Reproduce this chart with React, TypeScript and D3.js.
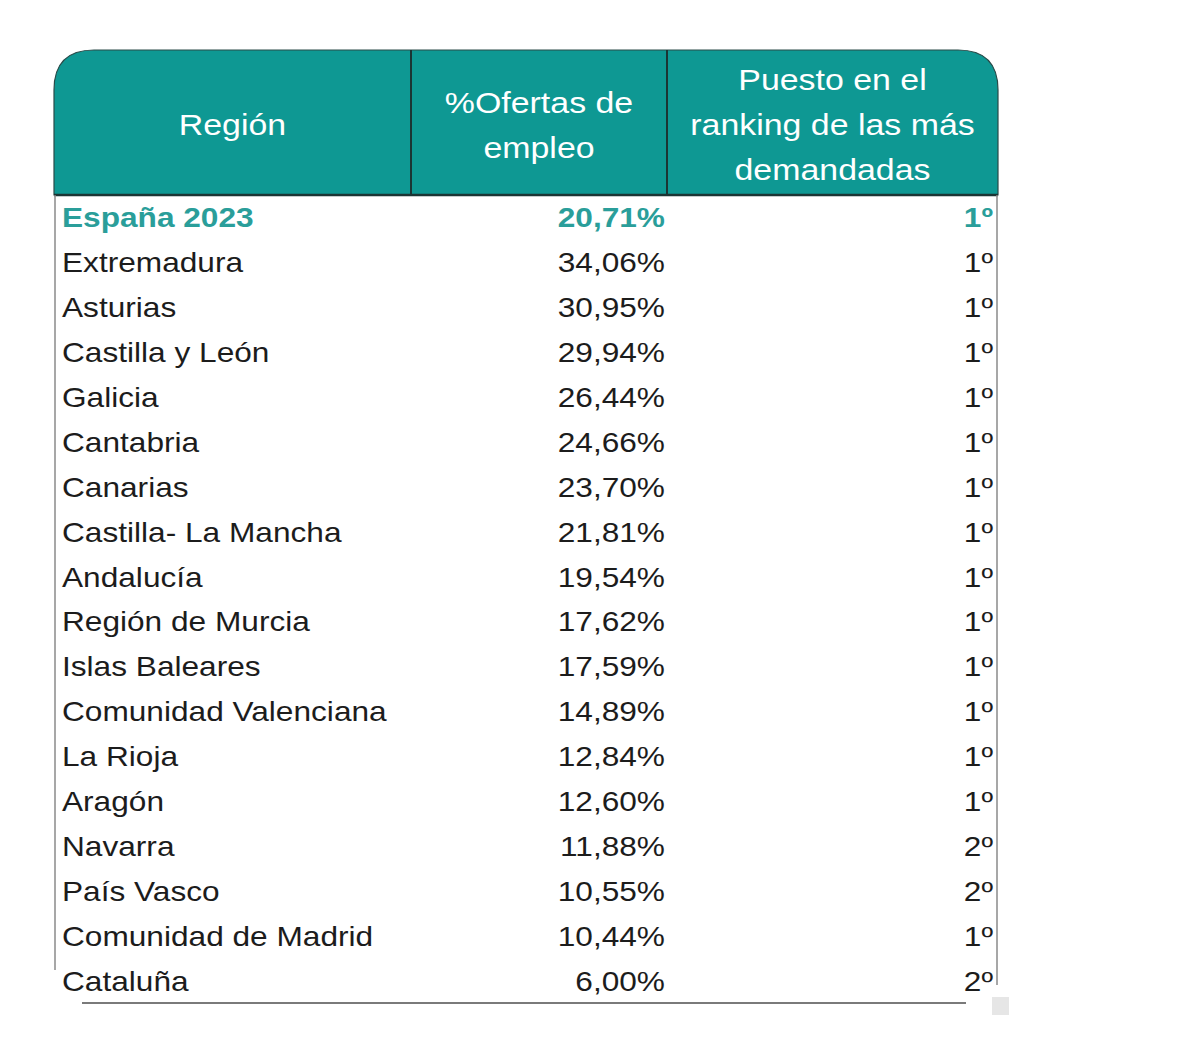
import React from "react";
import * as d3 from "d3";

const regions = [
  "España 2023",
  "Extremadura",
  "Asturias",
  "Castilla y León",
  "Galicia",
  "Cantabria",
  "Canarias",
  "Castilla- La Mancha",
  "Andalucía",
  "Región de Murcia",
  "Islas Baleares",
  "Comunidad Valenciana",
  "La Rioja",
  "Aragón",
  "Navarra",
  "País Vasco",
  "Comunidad de Madrid",
  "Cataluña",
];
const ofertas = [20.71, 34.06, 30.95, 29.94, 26.44, 24.66, 23.7, 21.81, 19.54, 17.62, 17.59, 14.89, 12.84, 12.6, 11.88, 10.55, 10.44, 6.0];
const ranking = [1, 1, 1, 1, 1, 1, 1, 1, 1, 1, 1, 1, 1, 1, 2, 2, 1, 2];
const headers = [["Región"], ["%Ofertas de", "empleo"], ["Puesto en el", "ranking de las más", "demandadas"]];

const TEAL = "#0e9893";
const SX = 1.13;

export default function App() {
  const left = 46, right = 990, top = 42, headBottom = 187;
  const cols = [left, 403, 659, right];
  const y = d3.scaleBand<string>().domain(regions).range([186, 994]).padding(0);
  const fmt = (v: number) => d3.format(".2f")(v).replace(".", ",") + "%";
  const r = 40;
  const headPath = `M${left},${headBottom} L${left},${top + r} Q${left},${top} ${left + r},${top} L${right - r},${top} Q${right},${top} ${right},${top + r} L${right},${headBottom} Z`;
  const font = "Liberation Sans, Arial, sans-serif";

  return (
    <svg width={1184} height={1040} style={{ display: "block", background: "#fff" }}>
      <path d={headPath} fill={TEAL} stroke="#2a4a48" strokeWidth={1.2} />
      {cols.slice(1, 3).map((x, i) => (
        <line key={i} x1={x} x2={x} y1={top} y2={headBottom} stroke="#1b3534" strokeWidth={2} />
      ))}
      <line x1={left} x2={right} y1={headBottom} y2={headBottom} stroke="#1b3534" strokeWidth={2.5} />
      {headers.map((lines, ci) => {
        const cx = (cols[ci] + cols[ci + 1]) / 2;
        const mid = 125 - 10;
        const n = lines.length;
        return lines.map((t, li) => {
          const by = mid + (li - (n - 1) / 2) * 45 + 12;
          return (
            <text key={`${ci}-${li}`} transform={`translate(${cx},${by}) scale(${SX},1)`} textAnchor="middle"
              fill="#fff" fontFamily={font} fontSize={30}>{t}</text>
          );
        });
      })}
      <line x1={left + 1} x2={left + 1} y1={headBottom} y2={962} stroke="#8a8a8a" strokeWidth={1.5} />
      <line x1={right - 1} x2={right - 1} y1={headBottom} y2={977} stroke="#8a8a8a" strokeWidth={1.5} />
      <line x1={74} x2={958} y1={995} y2={995} stroke="#7a7a7a" strokeWidth={2} />
      <rect x={984} y={989} width={17} height={18} fill="#e6e6e6" />
      {regions.map((reg, i) => {
        const cy = (y(reg) as number) + y.bandwidth() / 2;
        const first = i === 0;
        const color = first ? "#2a9e9a" : "#1c1c1c";
        const fw = first ? 700 : 400;
        const by = cy + 11;
        return (
          <g key={reg} fill={color} fontFamily={font} fontSize={28} fontWeight={fw}>
            <text transform={`translate(54,${by}) scale(${SX},1)`}>{reg}</text>
            <text transform={`translate(657,${by}) scale(${SX},1)`} textAnchor="end">{fmt(ofertas[i])}</text>
            <text transform={`translate(985,${by}) scale(${SX},1)`} textAnchor="end">{ranking[i] + "º"}</text>
          </g>
        );
      })}
    </svg>
  );
}
